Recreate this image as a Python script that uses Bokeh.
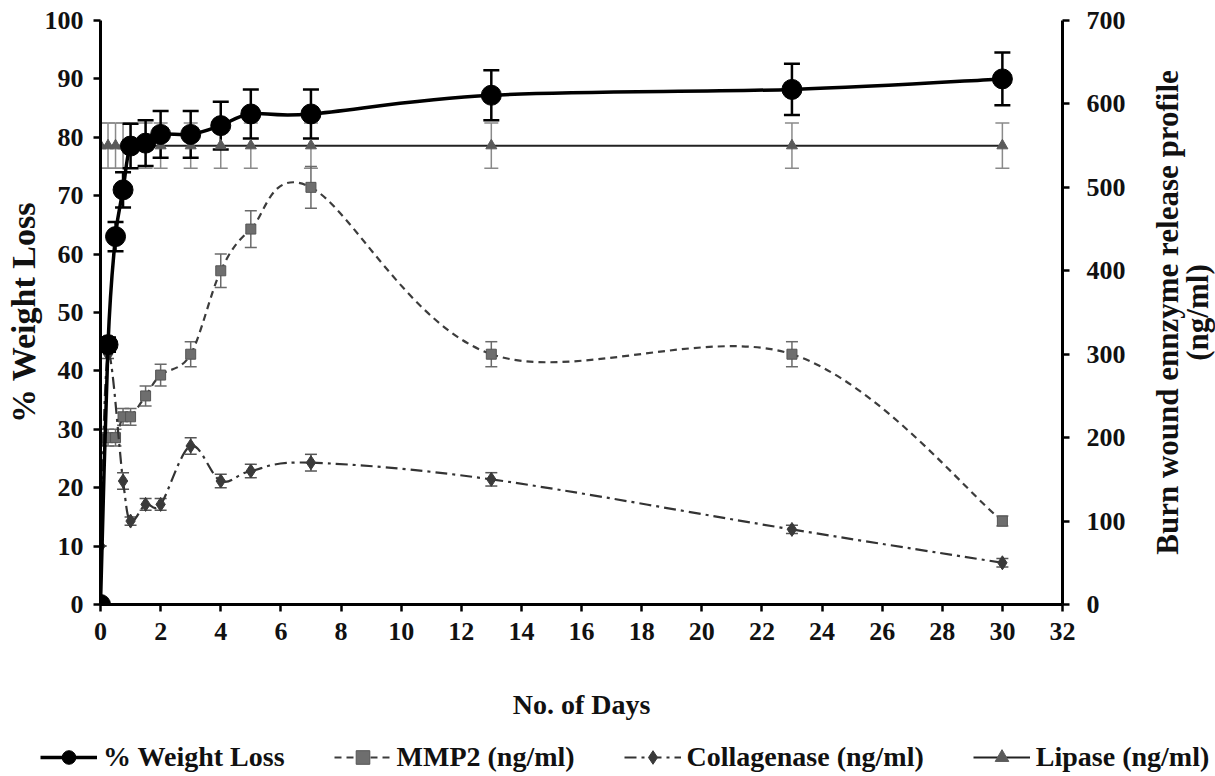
import math
from bokeh.plotting import figure
from bokeh.layouts import column, row
from bokeh.core.properties import value
from bokeh.models import (Range1d, LinearAxis, FixedTicker, Whisker, ColumnDataSource,
                          Legend, LegendItem, TeeHead)
from bokeh.embed import file_html
from bokeh.resources import INLINE

# ---------------- data ----------------
days = [0, 0.25, 0.5, 0.75, 1, 1.5, 2, 3, 4, 5, 7, 13, 23, 30]
weight_loss = [0, 44.5, 63, 71, 78.5, 79, 80.5, 80.5, 82, 84, 84, 87.2, 88.2, 90]
weight_loss_err = [0, 1.2, 2.5, 3.0, 3.8, 3.9, 4.0, 4.0, 4.1, 4.2, 4.2, 4.3, 4.4, 4.5]

mmp2 = [200, 200, 200, 225, 225, 250, 275, 300, 400, 450, 500, 300, 300, 100]
mmp2_err = [10, 10, 10, 10, 10, 12, 13, 15, 20, 22, 25, 15, 15, 6]

coll_days = [0, 0.25, 0.75, 1, 1.5, 2, 3, 4, 5, 7, 13, 23, 30]
collagenase = [70, 300, 148, 100, 120, 120, 190, 148, 160, 170, 150, 90, 50]
collagenase_err = [0, 5, 10, 5, 7, 7, 10, 8, 8, 10, 8, 5, 5]

lipase = [550] * len(days)
lipase_err = [27] * len(days)

x_ticks = list(range(0, 33, 2))
left_ticks = list(range(0, 101, 10))
right_ticks = list(range(0, 701, 100))

series_labels = ["% Weight Loss", "MMP2 (ng/ml)", "Collagenase (ng/ml)", "Lipase (ng/ml)"]
right_title_lines = ["Burn wound ennzyme release profile", "(ng/ml)"]

FONT = "Liberation Serif"
TXT = "#111111"

W_MAIN, H_MAIN = 1135, 736
W_SIDE = 1215 - W_MAIN
H_LEG = 776 - H_MAIN


def smooth_segments(xs, ys):
    """Bezier control points (Excel-like smoothed line) through the data points."""
    n = len(xs)
    out = dict(x0=[], y0=[], x1=[], y1=[], cx0=[], cy0=[], cx1=[], cy1=[])
    for i in range(n - 1):
        a = i - 1 if i > 0 else i
        d = i + 2 if i + 2 < n else i + 1
        out["x0"].append(xs[i]); out["y0"].append(ys[i])
        out["x1"].append(xs[i + 1]); out["y1"].append(ys[i + 1])
        out["cx0"].append(xs[i] + (xs[i + 1] - xs[a]) / 6.0)
        out["cy0"].append(ys[i] + (ys[i + 1] - ys[a]) / 6.0)
        out["cx1"].append(xs[i + 1] - (xs[d] - xs[i]) / 6.0)
        out["cy1"].append(ys[i + 1] - (ys[d] - ys[i]) / 6.0)
    return ColumnDataSource(out)


p = figure(width=W_MAIN, height=H_MAIN, x_range=Range1d(0, 32), y_range=Range1d(0, 100),
           output_backend="svg", toolbar_location=None,
           min_border_left=100, min_border_right=W_MAIN - 1062, min_border_top=20,
           min_border_bottom=H_MAIN - 604)
p.extra_y_ranges = {"enz": Range1d(0, 700)}
p.grid.visible = False
p.outline_line_color = None
p.background_fill_color = "white"
p.border_fill_color = "white"


def style_axis(ax, label_standoff, title_standoff):
    ax.axis_line_color = "black"
    ax.axis_line_width = 3
    ax.major_tick_line_color = "black"
    ax.major_tick_line_width = 2.5
    ax.major_tick_out = 7
    ax.major_tick_in = 0
    ax.minor_tick_line_color = None
    ax.major_label_text_font = FONT
    ax.major_label_text_font_style = "bold"
    ax.major_label_text_font_size = "26px"
    ax.major_label_text_color = TXT
    ax.major_label_standoff = label_standoff
    ax.axis_label_text_font = FONT
    ax.axis_label_text_font_style = "bold"
    ax.axis_label_text_color = TXT
    ax.axis_label_standoff = title_standoff


xa = p.xaxis[0]
xa.ticker = FixedTicker(ticks=x_ticks)
xa.axis_label = "No. of Days"
style_axis(xa, 11, 46)
xa.axis_label_text_font_size = "28px"

ya = p.yaxis[0]
ya.ticker = FixedTicker(ticks=left_ticks)
ya.axis_label = "% Weight Loss"
style_axis(ya, 10, 0)
ya.axis_label_text_font_size = "34px"

ra = LinearAxis(y_range_name="enz", ticker=FixedTicker(ticks=right_ticks))
style_axis(ra, 17, 0)
p.add_layout(ra, "right")

# ---------------- error bars ----------------
def add_whisker(xs, ys, errs, color, width, head, rng=None):
    src = ColumnDataSource(dict(base=xs, upper=[y + e for y, e in zip(ys, errs)],
                                lower=[y - e for y, e in zip(ys, errs)]))
    kw = {}
    if rng:
        kw["y_range_name"] = rng
    w = Whisker(source=src, base="base", upper="upper", lower="lower", dimension="height",
                line_color=color, line_width=width, level="underlay",
                upper_head=TeeHead(size=head, line_color=color, line_width=width),
                lower_head=TeeHead(size=head, line_color=color, line_width=width), **kw)
    p.add_layout(w)


add_whisker(days, lipase, lipase_err, "#8a8a8a", 1.5, 14, "enz")
add_whisker(days, mmp2, mmp2_err, "#6a6a6a", 1.5, 12, "enz")
add_whisker(coll_days, collagenase, collagenase_err, "#555555", 1.5, 12, "enz")
add_whisker(days, weight_loss, weight_loss_err, "black", 2.5, 16)

# ---------------- series styles ----------------
WL = dict(line_color="black", line_width=3.5)
MMP = dict(line_color="#3c3c3c", line_width=2.2, line_dash="7 5")
COL = dict(line_color="#333333", line_width=2.2, line_dash="12 5 3 5")
LIP = dict(line_color="#222222", line_width=2)
WL_M = dict(marker="circle", fill_color="black", line_color="black")
MMP_M = dict(marker="square", fill_color="#6e6e6e", line_color="#555555")
COL_M = dict(marker="diamond", fill_color="#3a3a3a", line_color="#3a3a3a")
LIP_M = dict(marker="triangle", fill_color="#5a5a5a", line_color="#5a5a5a")

BZ = dict(x0="x0", y0="y0", x1="x1", y1="y1", cx0="cx0", cy0="cy0", cx1="cx1", cy1="cy1")

# Lipase: straight line with triangles
p.line(days, lipase, y_range_name="enz", **LIP)
p.scatter(days, lipase, y_range_name="enz", size=11, **LIP_M)

# MMP2: smoothed dashed line with squares
p.bezier(source=smooth_segments(days, mmp2), y_range_name="enz", **BZ, **MMP)
p.scatter(days, mmp2, y_range_name="enz", size=10, **MMP_M)

# Collagenase: smoothed dash-dot line with diamonds
p.bezier(source=smooth_segments(coll_days, collagenase), y_range_name="enz", **BZ, **COL)
p.scatter(coll_days, collagenase, y_range_name="enz", size=14, **COL_M)

# Weight loss: smoothed solid black line with circles
p.bezier(source=smooth_segments(days, weight_loss), **BZ, **WL)
p.scatter(days, weight_loss, size=20, **WL_M)

# ---------------- right-hand axis title (reads bottom to top) ----------------
# (the row aligns this figure's frame with the main plot frame, so 0.5 = frame middle)
side = figure(width=W_SIDE, height=H_MAIN, x_range=Range1d(0, W_SIDE), y_range=Range1d(0, 1),
              output_backend="svg", toolbar_location=None, min_border=0,
              x_axis_type=None, y_axis_type=None)
side.grid.visible = False
side.outline_line_color = None
side.background_fill_color = "white"
side.text(x=[32, 62], y=[0.5, 0.5], text=right_title_lines, angle=math.pi / 2,
          text_align="center", text_baseline="middle", text_font=value(FONT),
          text_font_style="bold", text_font_size="31px", text_color=TXT)

# ---------------- legend strip ----------------
leg = figure(width=1215, height=H_LEG, x_range=Range1d(-3, -2), y_range=Range1d(-3, -2),
             output_backend="svg", toolbar_location=None, min_border=0,
             x_axis_type=None, y_axis_type=None)
leg.grid.visible = False
leg.outline_line_color = None
# the same series drawn in the strip (outside its ranges) only to supply legend swatches
items = []
for lbl, xs, ys, lst, mst, msz in [
        (series_labels[0], days, weight_loss, WL, WL_M, 14),
        (series_labels[1], days, mmp2, MMP, MMP_M, 9),
        (series_labels[2], coll_days, collagenase, COL, COL_M, 11),
        (series_labels[3], days, lipase, LIP, LIP_M, 9)]:
    r1 = leg.line(xs, ys, **lst)
    r2 = leg.scatter(xs, ys, size=msz, **mst)
    items.append(LegendItem(label=lbl, renderers=[r1, r2]))

legend = Legend(items=items, orientation="horizontal", location=(38, 0),
                label_text_font=FONT, label_text_font_style="bold", label_text_font_size="28px",
                label_text_color=TXT, glyph_width=57, glyph_height=34, label_standoff=6,
                spacing=49, padding=2, margin=0, border_line_alpha=0, background_fill_alpha=0,
                click_policy="none")
leg.add_layout(legend)

layout = column(row(p, side), leg)
open("out.html", "w").write(file_html(layout, INLINE))
